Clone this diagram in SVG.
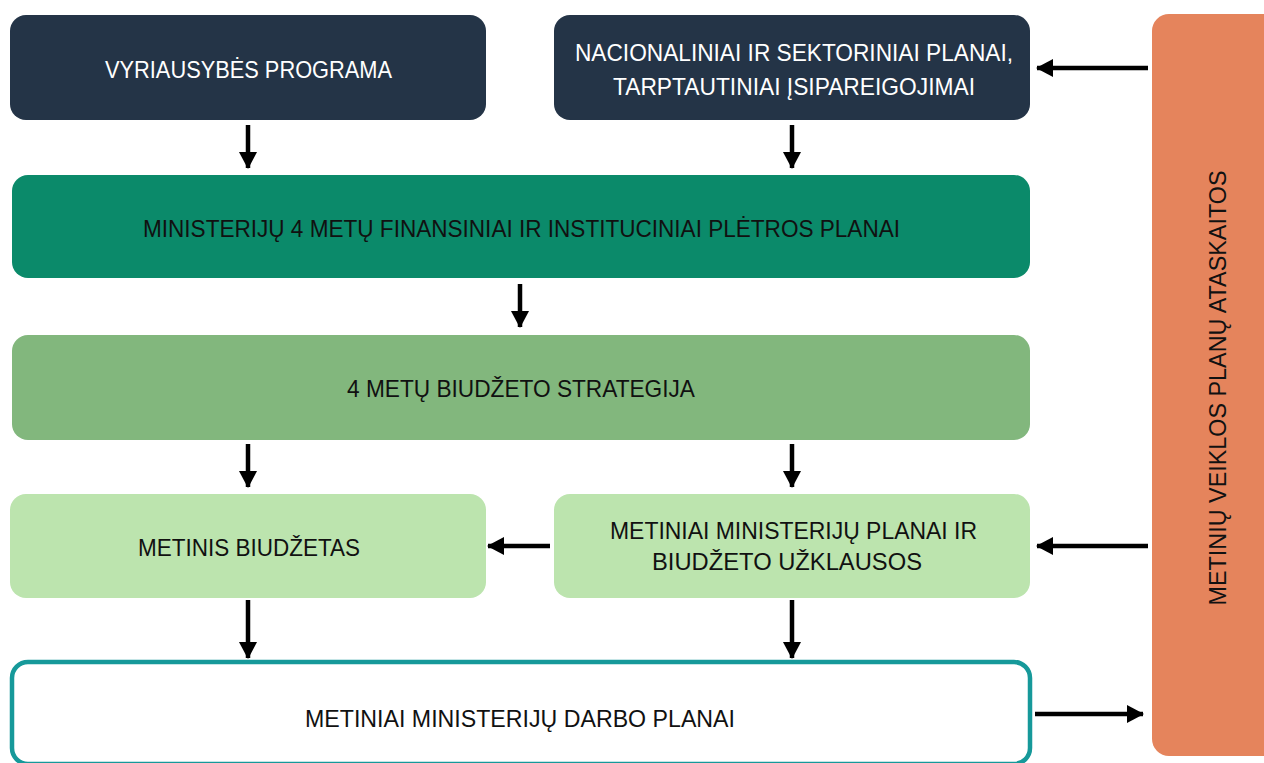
<svg xmlns="http://www.w3.org/2000/svg" width="1264" height="763" viewBox="0 0 1264 763">
<style>
.t{font-family:"Liberation Sans","DejaVu Sans",sans-serif;font-size:24.5px;text-anchor:middle;dominant-baseline:central}
.w{fill:#ffffff}
.b{fill:#111111}
.navy{fill:#243447}
.conn line{stroke:#000;stroke-width:4.5;marker-end:url(#ah)}
</style>
<defs>
<marker id="ah" markerUnits="userSpaceOnUse" markerWidth="20" markerHeight="20" refX="16" refY="9" orient="auto">
<path d="M0,0 L17,9 L0,18 Z" fill="#000"/>
</marker>
</defs>
<rect width="1264" height="763" fill="#ffffff"/>
<g id="n-vyriausybes">
<rect class="navy" x="10" y="15" width="476" height="105" rx="16"/>
<text class="t w" x="248.5" y="69" textLength="287" lengthAdjust="spacingAndGlyphs">VYRIAUSYBĖS PROGRAMA</text>
</g>
<g id="n-nacionaliniai">
<rect class="navy" x="554" y="15" width="476" height="105" rx="16"/>
<text class="t w" x="794" y="52" textLength="438" lengthAdjust="spacingAndGlyphs">NACIONALINIAI IR SEKTORINIAI PLANAI,</text>
<text class="t w" x="794" y="86" textLength="362" lengthAdjust="spacingAndGlyphs">TARPTAUTINIAI ĮSIPAREIGOJIMAI</text>
</g>
<g id="n-ministeriju4">
<rect x="12" y="175" width="1018" height="103" rx="16" fill="#0b8a6a"/>
<text class="t b" x="521.5" y="228" textLength="757" lengthAdjust="spacingAndGlyphs">MINISTERIJŲ 4 METŲ FINANSINIAI IR INSTITUCINIAI PLĖTROS PLANAI</text>
</g>
<g id="n-strategija">
<rect x="12" y="335" width="1018" height="105" rx="16" fill="#82b77d"/>
<text class="t b" x="521" y="388" textLength="348" lengthAdjust="spacingAndGlyphs">4 METŲ BIUDŽETO STRATEGIJA</text>
</g>
<g id="n-metinis">
<rect x="10" y="494" width="476" height="104" rx="16" fill="#bce4ae"/>
<text class="t b" x="249" y="547" textLength="222" lengthAdjust="spacingAndGlyphs">METINIS BIUDŽETAS</text>
</g>
<g id="n-metiniai-planai">
<rect x="554" y="494" width="476" height="104" rx="16" fill="#bce4ae"/>
<text class="t b" x="793.5" y="530" textLength="367" lengthAdjust="spacingAndGlyphs">METINIAI MINISTERIJŲ PLANAI IR</text>
<text class="t b" x="787" y="561" textLength="270" lengthAdjust="spacingAndGlyphs">BIUDŽETO UŽKLAUSOS</text>
</g>
<g id="n-darbo">
<rect x="12" y="662" width="1018" height="102" rx="16" fill="#ffffff" stroke="#16999a" stroke-width="4.5"/>
<text class="t b" x="520" y="718" textLength="430" lengthAdjust="spacingAndGlyphs">METINIAI MINISTERIJŲ DARBO PLANAI</text>
</g>
<g id="n-ataskaitos">
<rect x="1152" y="14" width="130" height="742" rx="17" fill="#e5845c"/>
<text class="t b" x="1217" y="388" transform="rotate(-90 1217 388)" textLength="435" lengthAdjust="spacingAndGlyphs">METINIŲ VEIKLOS PLANŲ ATASKAITOS</text>
</g>
<g id="connectors" class="conn">
<line x1="248" y1="125" x2="248" y2="168"/>
<line x1="792" y1="125" x2="792" y2="168"/>
<line x1="520" y1="284" x2="520" y2="327"/>
<line x1="248" y1="444" x2="248" y2="487"/>
<line x1="792" y1="444" x2="792" y2="487"/>
<line x1="248" y1="600" x2="248" y2="658"/>
<line x1="792" y1="600" x2="792" y2="658"/>
<line x1="1148" y1="68" x2="1037" y2="68"/>
<line x1="550" y1="546" x2="488" y2="546"/>
<line x1="1148" y1="546" x2="1037" y2="546"/>
<line x1="1035" y1="714" x2="1143" y2="714"/>
</g>
</svg>
